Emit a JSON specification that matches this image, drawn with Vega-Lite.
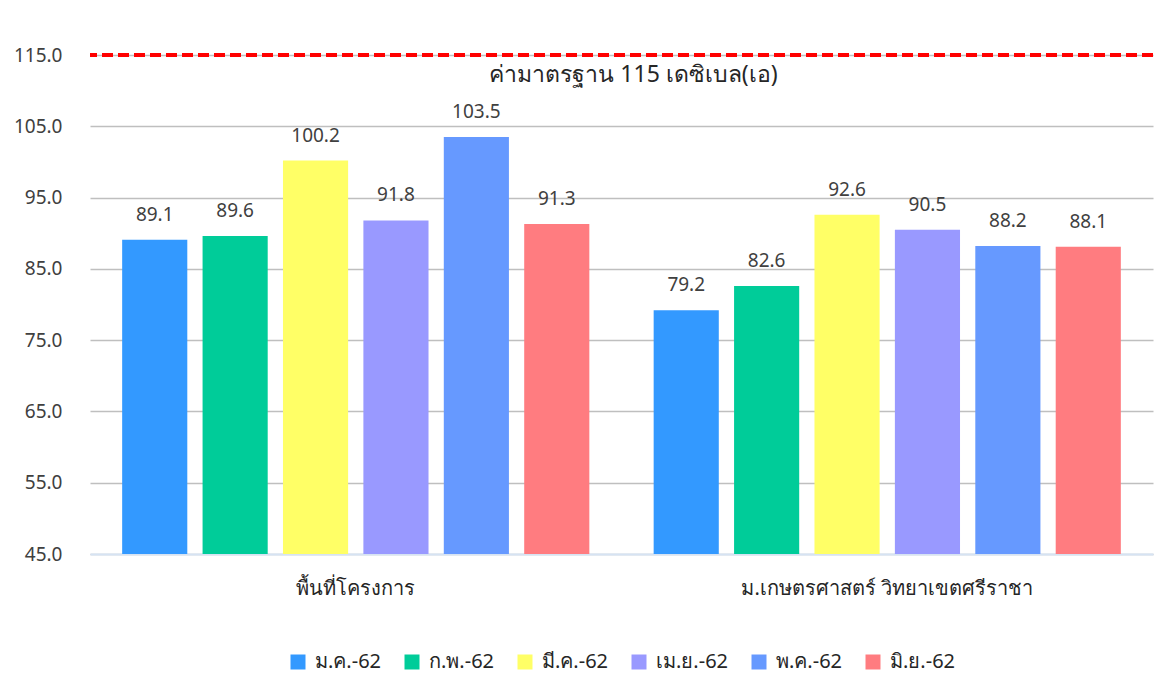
{
  "$schema": "https://vega.github.io/schema/vega-lite/v6.json",
  "width": 1063,
  "height": 499,
  "autosize": "none",
  "padding": {"left": 90, "top": 55, "right": 21, "bottom": 142},
  "background": "white",
  "config": {
    "font": "Noto Sans",
    "view": {"stroke": null},
    "axis": {"labelFont": "Noto Sans", "labelColor": "#404040"},
    "legend": {"labelFont": "Noto Sans", "layout": {"bottom": {"anchor": "middle"}}}
  },
  "datasets": {
    "bars": [
      {"site": "พื้นที่โครงการ", "month": "ม.ค.-62", "value": 89.1},
      {"site": "พื้นที่โครงการ", "month": "ก.พ.-62", "value": 89.6},
      {"site": "พื้นที่โครงการ", "month": "มี.ค.-62", "value": 100.2},
      {"site": "พื้นที่โครงการ", "month": "เม.ย.-62", "value": 91.8},
      {"site": "พื้นที่โครงการ", "month": "พ.ค.-62", "value": 103.5},
      {"site": "พื้นที่โครงการ", "month": "มิ.ย.-62", "value": 91.3},
      {"site": "ม.เกษตรศาสตร์ วิทยาเขตศรีราชา", "month": "ม.ค.-62", "value": 79.2},
      {"site": "ม.เกษตรศาสตร์ วิทยาเขตศรีราชา", "month": "ก.พ.-62", "value": 82.6},
      {"site": "ม.เกษตรศาสตร์ วิทยาเขตศรีราชา", "month": "มี.ค.-62", "value": 92.6},
      {"site": "ม.เกษตรศาสตร์ วิทยาเขตศรีราชา", "month": "เม.ย.-62", "value": 90.5},
      {"site": "ม.เกษตรศาสตร์ วิทยาเขตศรีราชา", "month": "พ.ค.-62", "value": 88.2},
      {"site": "ม.เกษตรศาสตร์ วิทยาเขตศรีราชา", "month": "มิ.ย.-62", "value": 88.1}
    ],
    "std": [{"std": 115, "label": "ค่ามาตรฐาน 115 เดซิเบล(เอ)"}]
  },
  "layer": [
    {
      "data": {"name": "bars"},
      "mark": {"type": "bar", "clip": true},
      "encoding": {
        "x": {
          "field": "site", "type": "nominal", "sort": null,
          "scale": {"paddingInner": 0, "paddingOuter": 0},
          "axis": {"title": null, "labelAngle": 0, "ticks": false, "domain": true, "domainColor": "#D6E3F3", "domainWidth": 2, "labelFontSize": 20, "labelPadding": 24, "labelColor": "#262626", "labelLimit": 0}
        },
        "xOffset": {
          "field": "month", "type": "nominal", "sort": null,
          "scale": {"paddingInner": 0.19, "paddingOuter": 0.4}
        },
        "y": {
          "field": "value", "type": "quantitative",
          "scale": {"domain": [45, 115], "nice": false, "zero": false},
          "axis": {"title": null, "values": [45, 55, 65, 75, 85, 95, 105, 115], "format": ".1f", "domain": false, "ticks": false, "gridColor": "#BFBFBF", "gridWidth": 1.5, "labelFontSize": 19, "labelPadding": 28, "labelColor": "#404040"}
        },
        "color": {
          "field": "month", "type": "nominal", "sort": null,
          "scale": {
            "domain": ["ม.ค.-62", "ก.พ.-62", "มี.ค.-62", "เม.ย.-62", "พ.ค.-62", "มิ.ย.-62"],
            "range": ["#3399FF", "#00CC99", "#FFFF66", "#9999FF", "#6699FF", "#FF7C80"]
          },
          "legend": {"title": null, "orient": "bottom", "direction": "horizontal", "symbolType": "square", "symbolSize": 225, "symbolStrokeWidth": 0, "labelFontSize": 20, "labelColor": "#262626", "columnPadding": 20, "labelOffset": 7, "offset": 54}
        }
      }
    },
    {
      "data": {"name": "bars"},
      "mark": {"type": "text", "fontSize": 19, "color": "#404040", "baseline": "alphabetic", "dy": -19},
      "encoding": {
        "x": {"field": "site", "type": "nominal", "sort": null},
        "xOffset": {"field": "month", "type": "nominal", "sort": null},
        "y": {"field": "value", "type": "quantitative"},
        "text": {"field": "value", "type": "quantitative", "format": ".1f"}
      }
    },
    {
      "data": {"name": "std"},
      "mark": {"type": "rule", "color": "#FF0000", "strokeWidth": 4, "strokeDash": [11, 5]},
      "encoding": {"y": {"field": "std", "type": "quantitative"}}
    },
    {
      "data": {"name": "std"},
      "mark": {"type": "text", "fontSize": 23, "color": "#262626", "baseline": "middle", "dy": 20, "dx": 12},
      "encoding": {
        "y": {"field": "std", "type": "quantitative"},
        "text": {"field": "label"}
      }
    }
  ]
}
